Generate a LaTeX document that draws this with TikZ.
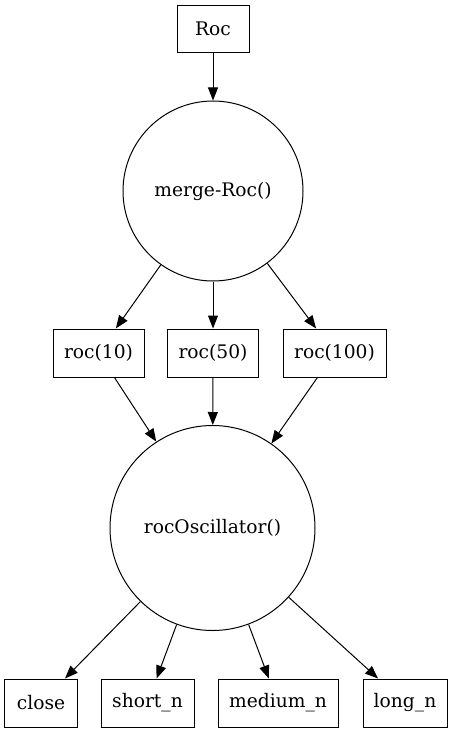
\documentclass[tikz,border=0pt]{standalone}
\usepackage{fontspec}
\setmainfont{DejaVu Serif}
\usetikzlibrary{arrows.meta}
\begin{document}
\begin{tikzpicture}[x=1bp,y=-1bp,
  every node/.style={font=\fontsize{18.67bp}{22bp}\selectfont, line width=1bp, draw=black},
  box/.style={rectangle, inner sep=0pt, anchor=center},
  circ/.style={circle, inner sep=0pt, anchor=center},
  edge/.style={line width=1bp, -{Triangle[length=13bp,width=10bp]}}
]
\useasboundingbox (0,0) rectangle (453,733);
\node[box, minimum width=72bp, minimum height=47.5bp] (roc) at (213,29) {Roc};
\node[circ, minimum size=180bp] (merge) at (213,191) {merge-Roc()};
\node[box, minimum width=91bp, minimum height=48bp] (r10) at (98.5,353) {roc(10)};
\node[box, minimum width=91bp, minimum height=48bp] (r50) at (213,353) {roc(50)};
\node[box, minimum width=103bp, minimum height=48bp] (r100) at (334.5,353) {roc(100)};
\node[circ, minimum size=205bp] (osc) at (212.5,528) {rocOscillator()};
\node[box, minimum width=72bp, minimum height=48bp] (close) at (41,703) {close};
\node[box, minimum width=93bp, minimum height=48bp] (short) at (147.5,703) {short\_n};
\node[box, minimum width=120bp, minimum height=48bp] (medium) at (278,703) {medium\_n};
\node[box, minimum width=84bp, minimum height=48bp] (long) at (405,703) {long\_n};
\draw[edge] (roc) -- (merge);
\draw[edge] (merge) -- (r10);
\draw[edge] (merge) -- (r50);
\draw[edge] (merge) -- (r100);
\draw[edge] (r10) -- (osc);
\draw[edge] (r50) -- (osc);
\draw[edge] (r100) -- (osc);
\draw[edge] (osc) -- (close);
\draw[edge] (osc) -- (short);
\draw[edge] (osc) -- (medium);
\draw[edge] (osc) -- (long);
\end{tikzpicture}
\end{document}
